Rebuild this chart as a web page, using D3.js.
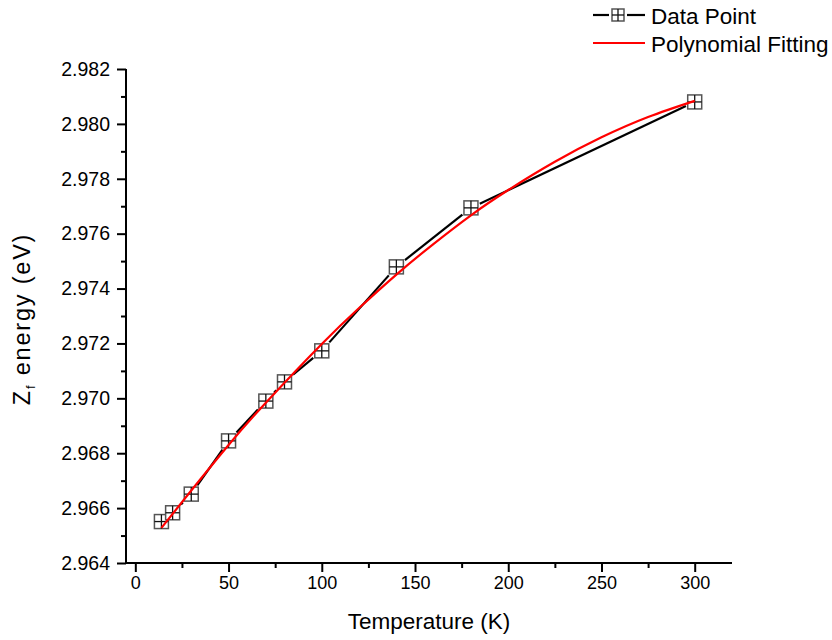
<!DOCTYPE html>
<html>
<head>
<meta charset="utf-8">
<script src="https://cdn.jsdelivr.net/npm/d3@7"></script>
<style>
  body { margin: 0; background: #fff; }
  text { font-family: "Liberation Sans", Arial, sans-serif; fill: #000; }
</style>
</head>
<body>
<div id="chart"></div>
<script>
// measured data points
const temps = [14, 20, 30, 50, 70, 80, 100, 140, 180, 300];
const energies = [2.96551, 2.96583, 2.96651, 2.96845, 2.96990, 2.97060, 2.97173, 2.97479, 2.97694, 2.98080];

// polynomial fit curve
const fitTemps = [14, 30, 50, 70, 100, 120, 140, 160, 180, 200, 225, 250, 275, 300];
const fitEnergies = [2.96528, 2.96664, 2.96830, 2.96984, 2.97198, 2.97329, 2.97451, 2.97563, 2.97667, 2.97759, 2.97862, 2.97951, 2.98025, 2.98084];

const xTicks = [0, 50, 100, 150, 200, 250, 300];
const yTicks = [2.964, 2.966, 2.968, 2.970, 2.972, 2.974, 2.976, 2.978, 2.980, 2.982];

const legendLabels = ["Data Point", "Polynomial Fitting"];

const width = 832, height = 640;
const margin = {top: 69, right: 100, bottom: 77, left: 126};

const svg = d3.select("#chart").append("svg")
    .attr("width", width)
    .attr("height", height);

const x = d3.scaleLinear().domain([-5, 320]).range([margin.left, width - margin.right]);
const y = d3.scaleLinear().domain([2.964, 2.982]).range([height - margin.bottom, margin.top]);

// minor tick values halfway between majors
const xMinor = d3.range(25, 320, 50);
const yMinor = d3.range(2.965, 2.982, 0.002);

// x axis
const xAxisG = svg.append("g")
    .attr("transform", `translate(0,${y(2.964)})`);
xAxisG.call(d3.axisBottom(x).tickValues(xTicks).tickSize(9).tickSizeOuter(0).tickPadding(4));
xAxisG.append("g").call(d3.axisBottom(x).tickValues(xMinor).tickSize(5).tickFormat(""));
xAxisG.selectAll("path.domain").remove();
xAxisG.append("line")
    .attr("x1", x(-5)).attr("x2", x(320))
    .attr("stroke", "#000").attr("stroke-width", 2);
xAxisG.selectAll(".tick text").attr("font-size", 18);

// y axis
const yAxisG = svg.append("g")
    .attr("transform", `translate(${x(-5)},0)`);
yAxisG.call(d3.axisLeft(y).tickValues(yTicks).tickSize(9).tickSizeOuter(0).tickPadding(7).tickFormat(d3.format(".3f")));
yAxisG.append("g").call(d3.axisLeft(y).tickValues(yMinor).tickSize(5).tickFormat(""));
yAxisG.selectAll("path.domain").remove();
yAxisG.append("line")
    .attr("y1", y(2.964)).attr("y2", y(2.982))
    .attr("stroke", "#000").attr("stroke-width", 2);
yAxisG.selectAll(".tick text").attr("font-size", 19.5);

svg.selectAll(".tick line").attr("stroke", "#000").attr("stroke-width", 2);
svg.selectAll(".tick text")
    .attr("font-family", "Liberation Sans, Arial, sans-serif")
    .attr("fill", "#000");

// axis titles
svg.append("text")
    .attr("x", (x(-5) + x(320)) / 2)
    .attr("y", 629)
    .attr("text-anchor", "middle")
    .attr("font-size", 22.5)
    .text("Temperature (K)");

const yTitle = svg.append("text")
    .attr("transform", `translate(30,${(y(2.964) + y(2.982)) / 2 + 3}) rotate(-90)`)
    .attr("text-anchor", "middle")
    .attr("font-size", 23.5)
    .attr("letter-spacing", 1.8);
yTitle.append("tspan").text("Z");
yTitle.append("tspan").attr("font-size", 13).attr("dy", 5).text("f");
yTitle.append("tspan").attr("dy", -5).text(" energy (eV)");

// data line drawn as segments with gaps around the markers
const markerSize = 14;
const pts = temps.map((t, i) => [x(t), y(energies[i])]);
const segs = [];
for (let i = 0; i < pts.length - 1; i++) {
    const [x0, y0] = pts[i], [x1, y1] = pts[i + 1];
    const len = Math.hypot(x1 - x0, y1 - y0);
    const ux = (x1 - x0) / len, uy = (y1 - y0) / len;
    const cut = (markerSize / 2) / Math.max(Math.abs(ux), Math.abs(uy)) + 2;
    if (len > 2 * cut) {
        segs.push([x0 + ux * cut, y0 + uy * cut, x1 - ux * cut, y1 - uy * cut]);
    }
}
svg.append("g").selectAll("line")
    .data(segs)
    .join("line")
    .attr("x1", d => d[0]).attr("y1", d => d[1])
    .attr("x2", d => d[2]).attr("y2", d => d[3])
    .attr("stroke", "#000")
    .attr("stroke-width", 2.2);

function drawMarker(g, cx, cy, s) {
    const h = s / 2;
    g.append("rect")
        .attr("x", cx - h).attr("y", cy - h)
        .attr("width", s).attr("height", s)
        .attr("fill", "#fff")
        .attr("stroke", "#555")
        .attr("stroke-width", 1.5);
    g.append("line")
        .attr("x1", cx - h).attr("x2", cx + h)
        .attr("y1", cy).attr("y2", cy)
        .attr("stroke", "#111").attr("stroke-width", 1.3);
    g.append("line")
        .attr("x1", cx).attr("x2", cx)
        .attr("y1", cy - h).attr("y2", cy + h)
        .attr("stroke", "#111").attr("stroke-width", 1.3);
}

const markerG = svg.append("g");
pts.forEach(p => drawMarker(markerG, p[0], p[1], markerSize));

// fit curve on top
const fitLine = d3.line()
    .x(d => x(d[0]))
    .y(d => y(d[1]))
    .curve(d3.curveNatural);

svg.append("path")
    .datum(fitTemps.map((t, i) => [t, fitEnergies[i]]))
    .attr("d", fitLine)
    .attr("fill", "none")
    .attr("stroke", "#ff0000")
    .attr("stroke-width", 2.2);

// legend
const legend = svg.append("g");
legend.append("line")
    .attr("x1", 593).attr("x2", 609).attr("y1", 15).attr("y2", 15)
    .attr("stroke", "#000").attr("stroke-width", 2.2);
legend.append("line")
    .attr("x1", 627).attr("x2", 645).attr("y1", 15).attr("y2", 15)
    .attr("stroke", "#000").attr("stroke-width", 2.2);
drawMarker(legend, 618, 15, 12);
legend.append("line")
    .attr("x1", 593).attr("x2", 645).attr("y1", 43).attr("y2", 43)
    .attr("stroke", "#ff0000").attr("stroke-width", 2.2);
legend.selectAll("text.lab")
    .data(legendLabels)
    .join("text")
    .attr("class", "lab")
    .attr("x", 651)
    .attr("y", (d, i) => 24 + i * 28)
    .attr("font-size", 22.5)
    .text(d => d);
</script>
</body>
</html>
